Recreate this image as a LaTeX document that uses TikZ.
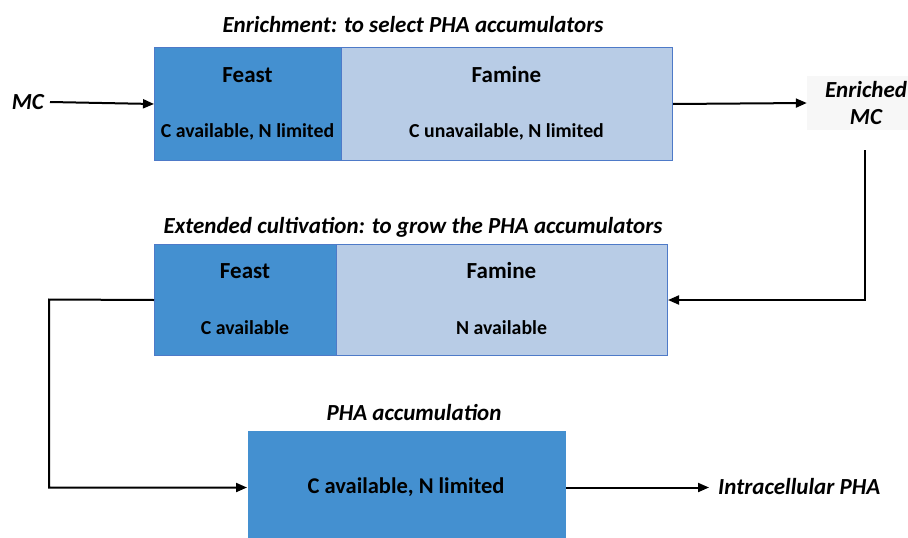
\documentclass[tikz,border=0pt]{standalone}
\usepackage{fontspec}
\setmainfont{Carlito}
\usetikzlibrary{arrows.meta,calc}
\definecolor{feastblue}{RGB}{68,144,208}
\definecolor{famineblue}{RGB}{184,204,230}
\definecolor{edgeblue}{RGB}{78,122,200}
\tikzset{
  phase/.style={draw=edgeblue, line width=1pt, anchor=north west, inner sep=0pt},
  feastbox/.style={phase, fill=feastblue},
  faminebox/.style={phase, fill=famineblue},
  head/.style={font=\bfseries\fontsize{23}{27}\selectfont, inner sep=0pt},
  cond/.style={font=\bfseries\fontsize{19.8}{24}\selectfont, inner sep=0pt},
  caption/.style={font=\bfseries\itshape\fontsize{23}{27}\selectfont, inner sep=0pt},
  flow/.style={line width=2pt, -{Triangle[length=11pt,width=9pt]}},
}
\begin{document}
\begin{tikzpicture}[x=1pt,y=-1pt]
\useasboundingbox (0,0) rectangle (908,538);
\clip (0,0) rectangle (908,538);
\fill[white] (0,0) rectangle (908,538);

% Enrichment stage
\node[caption] (cap1) at (413,25) {Enrichment: to select PHA accumulators};
\node[feastbox, minimum width=187pt, minimum height=113pt] (feast1) at (154,47) {};
\node[faminebox, minimum width=331pt, minimum height=113pt] (famine1) at (341,47) {};
\node[head] (feast1h) at (247.5,75) {Feast};
\node[cond] (feast1c) at (247.5,132) {C available, N limited};
\node[head] (famine1h) at (506.5,75) {Famine};
\node[cond] (famine1c) at (506.5,132) {C unavailable, N limited};

\node[caption, anchor=east] (mc) at (44,102) {MC};
\node[fill=gray!6, inner sep=0pt, minimum width=102pt, minimum height=54pt] (enr) at (858,103) {};
\node[caption, align=center] (enrt) at (866,103) {Enriched\\MC};

% Extended cultivation stage
\node[caption] (cap2) at (413,227) {Extended cultivation: to grow the PHA accumulators};
\node[feastbox, minimum width=182pt, minimum height=111pt] (feast2) at (154,244) {};
\node[faminebox, minimum width=331pt, minimum height=111pt] (famine2) at (336,244) {};
\node[head] (feast2h) at (245,271) {Feast};
\node[cond] (feast2c) at (245,328) {C available};
\node[head] (famine2h) at (501.5,271) {Famine};
\node[cond] (famine2c) at (501.5,328) {N available};

% PHA accumulation stage
\node[caption] (cap3) at (414,413) {PHA accumulation};
\node[phase, draw=none, fill=feastblue, minimum width=318pt, minimum height=114pt] (acc) at (247,430) {};
\node[cond, font=\bfseries\fontsize{22.5}{27}\selectfont] (accc) at (406,487) {C available, N limited};
\node[caption, anchor=west] (out) at (718,487) {Intracellular PHA};

% Connectors
\coordinate (enrdown) at (865,150);
\coordinate (loopleft) at (49,299.5);
\draw[flow] (mc.east) ++(6,0) -- (feast1.west);
\draw[flow] (famine1.east) -- (enr.west);
\draw[flow] (enrdown) |- (famine2.east);
\draw[flow] (feast2.west) -- (loopleft) |- (acc.west);
\draw[flow] (acc.east) -- ++(143,0);
\end{tikzpicture}
\end{document}
